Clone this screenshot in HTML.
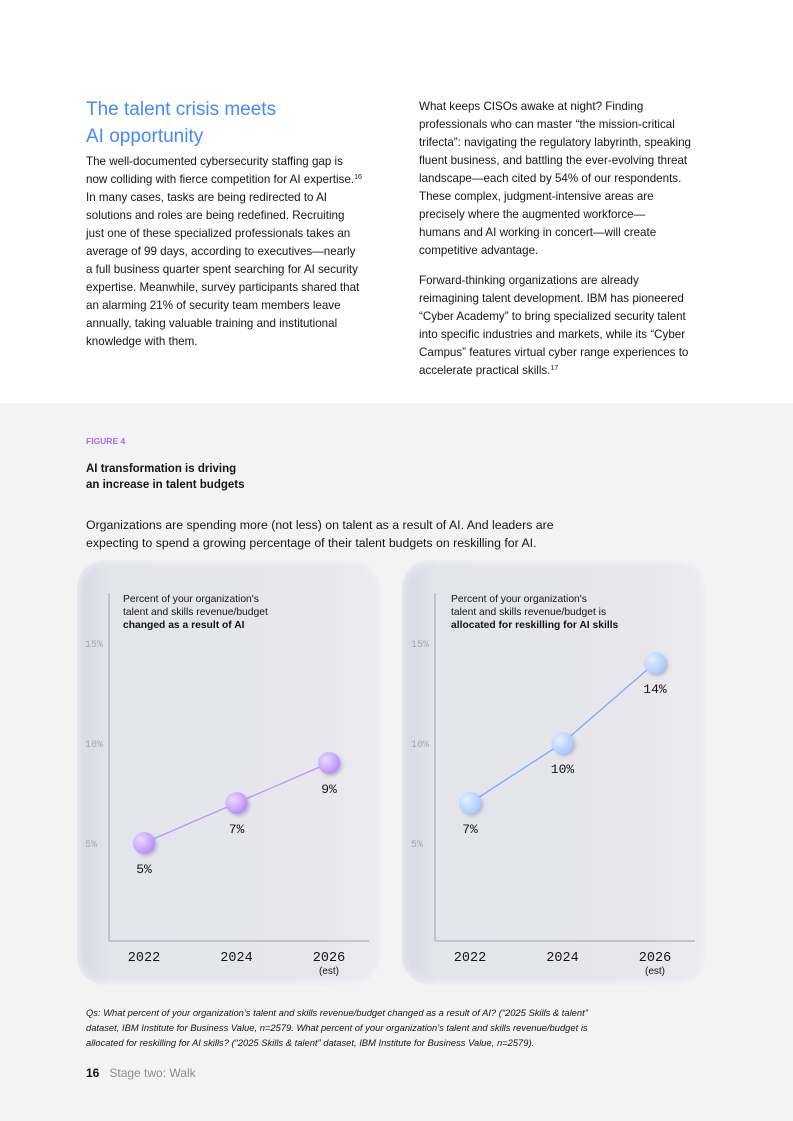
<!DOCTYPE html>
<html><head><meta charset="utf-8">
<style>
*{margin:0;padding:0;box-sizing:border-box}
body{width:793px;height:1121px;background:#fff;font-family:"Liberation Sans",sans-serif;color:#161616;position:relative;overflow:hidden}
.abs{position:absolute}
.body{font-size:11.6px;line-height:18px;color:#161616;white-space:nowrap}
sup{font-size:7px;line-height:0;vertical-align:4px}
h2{font-weight:normal;color:#4589ff;font-size:19px;line-height:27px}
.gray{position:absolute;left:0;top:403px;width:793px;height:718px;background:#f3f3f3}
.panel{position:absolute;top:560px;width:306px;height:425px;border-radius:28px;background:linear-gradient(90deg,#d7d8e4 0%,#e4e5ec 12%,#e6e6ec 80%,#ededf1 100%);box-shadow:inset 0 0 10px rgba(255,255,255,.8)}
.ctitle{position:absolute;font-size:10.3px;line-height:13px;color:#161616}
svg text{font-family:"Liberation Mono",monospace}
</style></head><body>
<h2 class="abs" style="left:86px;top:96px">The talent crisis meets<br>AI opportunity</h2>
<p class="abs body" style="left:86px;top:153px">The well-documented cybersecurity staffing gap is<br>now colliding with fierce competition for AI expertise.<sup>16</sup><br>In many cases, tasks are being redirected to AI<br>solutions and roles are being redefined. Recruiting<br>just one of these specialized professionals takes an<br>average of 99 days, according to executives—nearly<br>a full business quarter spent searching for AI security<br>expertise. Meanwhile, survey participants shared that<br>an alarming 21% of security team members leave<br>annually, taking valuable training and institutional<br>knowledge with them.</p>
<p class="abs body" style="left:419px;top:98px">What keeps CISOs awake at night? Finding<br>professionals who can master “the mission-critical<br>trifecta”: navigating the regulatory labyrinth, speaking<br>fluent business, and battling the ever-evolving threat<br>landscape—each cited by 54% of our respondents.<br>These complex, judgment-intensive areas are<br>precisely where the augmented workforce—<br>humans and AI working in concert—will create<br>competitive advantage.</p>
<p class="abs body" style="left:419px;top:272px">Forward-thinking organizations are already<br>reimagining talent development. IBM has pioneered<br>“Cyber Academy” to bring specialized security talent<br>into specific industries and markets, while its “Cyber<br>Campus” features virtual cyber range experiences to<br>accelerate practical skills.<sup>17</sup></p>
<div class="gray"></div>
<div class="abs" style="left:86px;top:436px;font-size:8.5px;font-weight:bold;color:#a56eff">FIGURE 4</div>
<div class="abs" style="left:86px;top:461px;font-size:11.5px;font-weight:bold;line-height:16px">AI transformation is driving<br>an increase in talent budgets</div>
<div class="abs" style="left:86px;top:516px;font-size:12.3px;line-height:18px;white-space:nowrap">Organizations are spending more (not less) on talent as a result of AI. And leaders are<br>expecting to spend a growing percentage of their talent budgets on reskilling for AI.</div>
<div class="panel" style="left:77px"></div>
<div class="panel" style="left:402px"></div>
<div class="ctitle" style="left:123px;top:593px">Percent of your organization's<br>talent and skills revenue/budget<br><b>changed as a result of AI</b></div>
<div class="ctitle" style="left:451px;top:593px">Percent of your organization's<br>talent and skills revenue/budget is<br><b>allocated for reskilling for AI skills</b></div>
<svg class="abs" style="left:0;top:0" width="793" height="1121" id="charts">
<defs>
<radialGradient id="gp" cx="35%" cy="35%" r="70%"><stop offset="0" stop-color="#ecdcff"/><stop offset="1" stop-color="#b58bff"/></radialGradient>
<radialGradient id="gb" cx="35%" cy="35%" r="70%"><stop offset="0" stop-color="#e6efff"/><stop offset="1" stop-color="#a6c8ff"/></radialGradient>
<filter id="sh" x="-50%" y="-50%" width="200%" height="200%"><feDropShadow dx="2" dy="2" stdDeviation="1.5" flood-color="#606080" flood-opacity="0.35"/></filter>
</defs>
</svg>
<div class="abs" style="left:86px;top:1005px;font-size:9.4px;font-style:italic;line-height:15px;white-space:nowrap">Qs: What percent of your organization’s talent and skills revenue/budget changed as a result of AI? (“2025 Skills &amp; talent”<br>dataset, IBM Institute for Business Value, n=2579. What percent of your organization’s talent and skills revenue/budget is<br>allocated for reskilling for AI skills? (“2025 Skills &amp; talent” dataset, IBM Institute for Business Value, n=2579).</div>
<div class="abs" style="left:86px;top:1066px;font-size:12px;color:#8d8d8d"><b style="color:#161616">16</b>&nbsp;&nbsp;&nbsp;Stage two: Walk</div>
<script>
const years=["2022","2024","2026"];
const leftValues=[5,7,9];
const rightValues=[7,10,14];
const yTicks=[5,10,15];
const NS="http://www.w3.org/2000/svg";
const svg=document.getElementById('charts');
function mk(t,a){const e=document.createElementNS(NS,t);for(const k in a)e.setAttribute(k,a[k]);svg.appendChild(e);return e;}
const yScale=v=>943-20*v;
function draw(axisX,x0,vals,color,grad,prefix){
  const xScale=i=>x0+i*92.5;
  let e=mk('line',{x1:axisX,y1:593,x2:axisX,y2:941,stroke:'#b8b8c4','stroke-width':1.5});
  
  
  e=mk('line',{x1:axisX,y1:941,x2:axisX+260,y2:941,stroke:'#b8b8c4','stroke-width':1.5});
  
  
  yTicks.forEach(t=>{const tx=mk('text',{x:axisX-24,y:yScale(t)+4,'font-size':10,fill:'#a8a8b4'});tx.textContent=t+'%';
    
    });
  years.forEach((y,i)=>{const tx=mk('text',{x:xScale(i),y:961,'font-size':13.5,fill:'#161616','text-anchor':'middle'});tx.textContent=y;
    
    });
  const est=mk('text',{x:xScale(2),y:974,'font-size':10,fill:'#161616','text-anchor':'middle','style':'font-family:Liberation Sans'});est.textContent='(est)';
  
  
  const pl=mk('polyline',{points:vals.map((v,i)=>xScale(i)+','+yScale(v)).join(' '),fill:'none',stroke:color,'stroke-width':1.3});
  
  
  vals.forEach((v,i)=>{
    const c=mk('circle',{cx:xScale(i),cy:yScale(v),r:11,fill:'url(#'+grad+')',filter:'url(#sh)'});
    
    
    const t=mk('text',{x:xScale(i),y:yScale(v)+30,'font-size':13,fill:'#161616','text-anchor':'middle'});t.textContent=v+'%';
    
    
  });
}
draw(109,144,leftValues,'#be95ff','gp','left');
draw(435,470,rightValues,'#78a9ff','gb','right');
</script>
</body></html>
